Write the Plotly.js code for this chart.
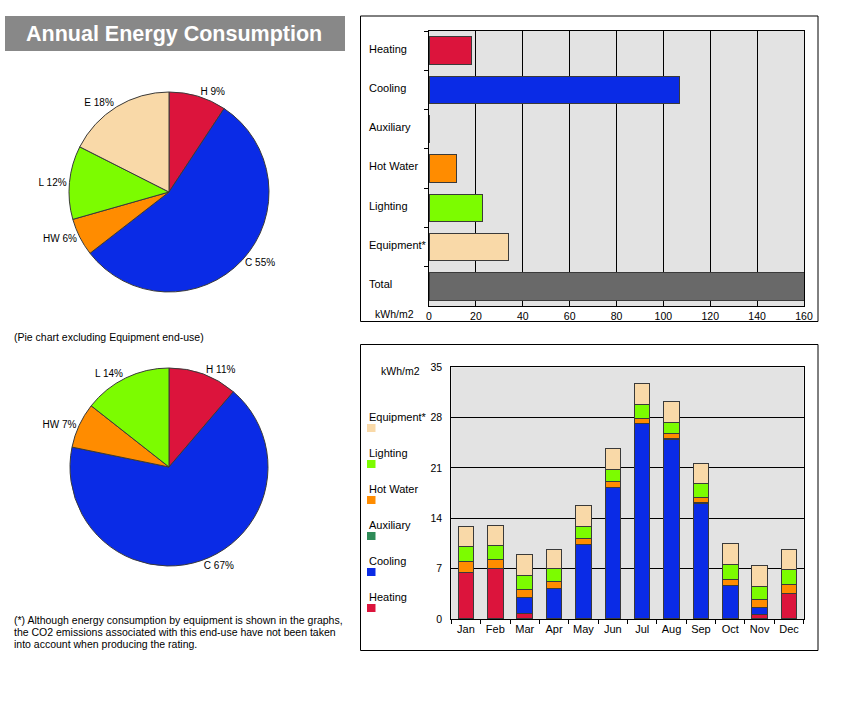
<!DOCTYPE html>
<html>
<head>
<meta charset="utf-8">
<script src="https://cdn.plot.ly/plotly-3.0.1.min.js"></script>
<style>
html,body{margin:0;padding:0;background:#fff;}
#chart{width:867px;height:705px;}
</style>
</head>
<body>
<div id="chart"></div>
<script>
// ---- data ----
var endUses = ['Heating', 'Cooling', 'Auxiliary', 'Hot Water', 'Lighting', 'Equipment*'];
var endUseColors = ['#dc143c', '#0a2be6', '#2e8b57', '#ff8c00', '#7cfc00', '#f9d9a8'];
var annualValues = [18, 107, 0.4, 11.8, 23, 34];
var totalLabel = 'Total';
var totalValue = 194;
var totalColor = '#696969';

var pieLabels1 = ['H', 'C', 'HW', 'L', 'E'];
var pieValues1 = [18, 107, 11.8, 23, 34];
var pieColors1 = ['#dc143c', '#0a2be6', '#ff8c00', '#7cfc00', '#f9d9a8'];
var pieLabels2 = ['H', 'C', 'HW', 'L'];
var pieValues2 = [18, 107, 11.8, 23];
var pieColors2 = ['#dc143c', '#0a2be6', '#ff8c00', '#7cfc00'];

var months = ['Jan', 'Feb', 'Mar', 'Apr', 'May', 'Jun', 'Jul', 'Aug', 'Sep', 'Oct', 'Nov', 'Dec'];
var heating   = [6.5, 7.0, 0.8, 0, 0, 0, 0, 0, 0, 0, 0.65, 3.5];
var cooling   = [0, 0, 2.2, 4.25, 10.3, 18.3, 27.2, 25.0, 16.1, 4.6, 0.9, 0];
var auxiliary = [0.03, 0.03, 0.03, 0.03, 0.03, 0.03, 0.03, 0.03, 0.03, 0.03, 0.03, 0.03];
var hotWater  = [1.4, 1.3, 1.1, 1.0, 0.9, 0.8, 0.65, 0.7, 0.7, 0.9, 1.1, 1.3];
var lighting  = [2.1, 1.95, 1.95, 1.8, 1.7, 1.7, 2.0, 1.65, 1.95, 2.1, 1.9, 2.0];
var equipment = [2.8, 2.7, 2.9, 2.65, 2.8, 2.9, 2.9, 2.9, 2.85, 2.9, 2.8, 2.9];
var monthlySeries = [heating, cooling, auxiliary, hotWater, lighting, equipment];

var unitLabel = 'kWh/m2';
var titleText = 'Annual Energy Consumption';
var pieNote = '(Pie chart excluding Equipment end-use)';
var footLines = [
  '(*) Although energy consumption by equipment is shown in the graphs,',
  'the CO2 emissions associated with this end-use have not been taken',
  'into account when producing the rating.'
];

// ---- helpers (pixel -> paper) ----
var W = 867, H = 705;
function px(x) { return x / W; }
function py(y) { return 1 - y / H; }
var FONT = 'Liberation Sans, Arial, sans-serif';
var OUTLINE = '#3a3a3a';

var traces = [];

// pies
traces.push({
  type: 'pie', labels: pieLabels1, values: pieValues1, sort: false,
  direction: 'clockwise', rotation: 0,
  marker: {colors: pieColors1, line: {color: OUTLINE, width: 1}},
  textposition: 'outside', texttemplate: '%{label} %{percent:.0%}',
  textfont: {family: FONT, size: 10, color: '#000'},
  domain: {x: [px(69), px(269)], y: [py(292), py(92)]},
  showlegend: false, hoverinfo: 'label+percent'
});
traces.push({
  type: 'pie', labels: pieLabels2, values: pieValues2, sort: false,
  direction: 'clockwise', rotation: 0,
  marker: {colors: pieColors2, line: {color: OUTLINE, width: 1}},
  textposition: 'outside', texttemplate: '%{label} %{percent:.0%}',
  textfont: {family: FONT, size: 10, color: '#000'},
  domain: {x: [px(70), px(268)], y: [py(566), py(368)]},
  showlegend: false, hoverinfo: 'label+percent'
});

// annual horizontal bars
var barCats = endUses.concat([totalLabel]);
var barVals = annualValues.concat([totalValue]);
var barCols = endUseColors.concat([totalColor]);
traces.push({
  type: 'bar', orientation: 'h', x: barVals, y: barCats,
  marker: {color: barCols, line: {color: OUTLINE, width: 1}},
  width: 0.7, xaxis: 'x', yaxis: 'y', showlegend: false
});

// monthly stacked bars
for (var i = 0; i < endUses.length; i++) {
  traces.push({
    type: 'bar', x: months, y: monthlySeries[i], name: endUses[i],
    marker: {color: endUseColors[i], line: {color: OUTLINE, width: 1}},
    xaxis: 'x2', yaxis: 'y2', showlegend: false
  });
}

var shapes = [
  {type: 'rect', xref: 'paper', yref: 'paper', x0: px(5), x1: px(345), y0: py(51), y1: py(16),
   fillcolor: '#888888', line: {width: 0}},
  {type: 'rect', xref: 'paper', yref: 'paper', x0: px(360.5), x1: px(818), y0: py(321.5), y1: py(16),
   line: {color: '#000', width: 1}},
  {type: 'rect', xref: 'paper', yref: 'paper', x0: px(360.5), x1: px(818), y0: py(650.5), y1: py(344.5),
   line: {color: '#000', width: 1}}
];

var annotations = [
  {xref: 'paper', yref: 'paper', x: px(174), y: py(34), text: '<b>' + titleText + '</b>',
   showarrow: false, xanchor: 'center', yanchor: 'middle',
   font: {family: FONT, size: 21.5, color: '#fff'}},
  {xref: 'paper', yref: 'paper', x: px(12), y: py(337), text: pieNote,
   showarrow: false, xanchor: 'left', yanchor: 'middle',
   font: {family: FONT, size: 10.5, color: '#000'}},
  {xref: 'paper', yref: 'paper', x: px(373), y: py(314), text: unitLabel,
   showarrow: false, xanchor: 'left', yanchor: 'middle',
   font: {family: FONT, size: 10.5, color: '#000'}},
  {xref: 'paper', yref: 'paper', x: px(379), y: py(371), text: unitLabel,
   showarrow: false, xanchor: 'left', yanchor: 'middle',
   font: {family: FONT, size: 10.5, color: '#000'}}
];
for (var f = 0; f < footLines.length; f++) {
  annotations.push({xref: 'paper', yref: 'paper', x: px(12), y: py(620 + f * 12), text: footLines[f],
    showarrow: false, xanchor: 'left', yanchor: 'middle',
    font: {family: FONT, size: 10.5, color: '#000'}});
}
// left-aligned category labels of the annual bar chart
for (var c = 0; c < barCats.length; c++) {
  annotations.push({xref: 'paper', yref: 'y', x: px(367), y: barCats[c], text: barCats[c],
    showarrow: false, xanchor: 'left', yanchor: 'middle', yshift: 2,
    font: {family: FONT, size: 11, color: '#000'}});
}
// custom legend for monthly chart (top: Equipment*, bottom: Heating)
for (var k = 0; k < endUses.length; k++) {
  var idx = endUses.length - 1 - k;
  var ty = 417 + k * 36;
  annotations.push({xref: 'paper', yref: 'paper', x: px(367), y: py(ty), text: endUses[idx],
    showarrow: false, xanchor: 'left', yanchor: 'middle',
    font: {family: FONT, size: 11, color: '#000'}});
  shapes.push({type: 'rect', xref: 'paper', yref: 'paper',
    x0: px(367), x1: px(375.5), y0: py(ty + 15), y1: py(ty + 7),
    fillcolor: endUseColors[idx], line: {width: 0}});
}

var layout = {
  width: W, height: H,
  margin: {l: 0, r: 0, t: 0, b: 0},
  paper_bgcolor: '#fff',
  font: {family: FONT, size: 10.5, color: '#000'},
  barmode: 'stack',
  bargap: 0.47,
  xaxis: {domain: [px(429), px(804)], anchor: 'y', range: [0, 160], dtick: 20, tick0: 0,
    showgrid: true, gridcolor: '#000', gridwidth: 1, zeroline: false,
    showline: true, linecolor: '#000', linewidth: 1, mirror: true,
    ticks: '', tickfont: {family: FONT, size: 10.5}, fixedrange: true},
  yaxis: {domain: [py(306), py(31)], anchor: 'x', type: 'category', autorange: 'reversed',
    showticklabels: false, ticks: 'outside', ticklen: 4, tickcolor: '#000', tickson: 'boundaries',
    showgrid: false, showline: true, linecolor: '#000', linewidth: 1, mirror: true, fixedrange: true},
  xaxis2: {domain: [px(451.3), px(803.7)], anchor: 'y2', type: 'category', tickangle: 0,
    ticks: 'outside', ticklen: 4, tickcolor: '#000', tickson: 'boundaries',
    showgrid: false, showline: true, linecolor: '#000', linewidth: 1, mirror: true,
    tickfont: {family: FONT, size: 11}, fixedrange: true},
  yaxis2: {domain: [py(619), py(367.3)], anchor: 'x2', range: [0, 35], dtick: 7, tick0: 0,
    showgrid: true, gridcolor: '#000', gridwidth: 1, zeroline: false,
    showline: true, linecolor: '#000', linewidth: 1, mirror: true,
    ticks: '', ticklabelstandoff: 6, tickfont: {family: FONT, size: 10.5}, fixedrange: true},
  plot_bgcolor: '#e3e3e3',
  shapes: shapes,
  annotations: annotations
};

Plotly.newPlot('chart', traces, layout, {displayModeBar: false, staticPlot: true});
</script>
</body>
</html>
